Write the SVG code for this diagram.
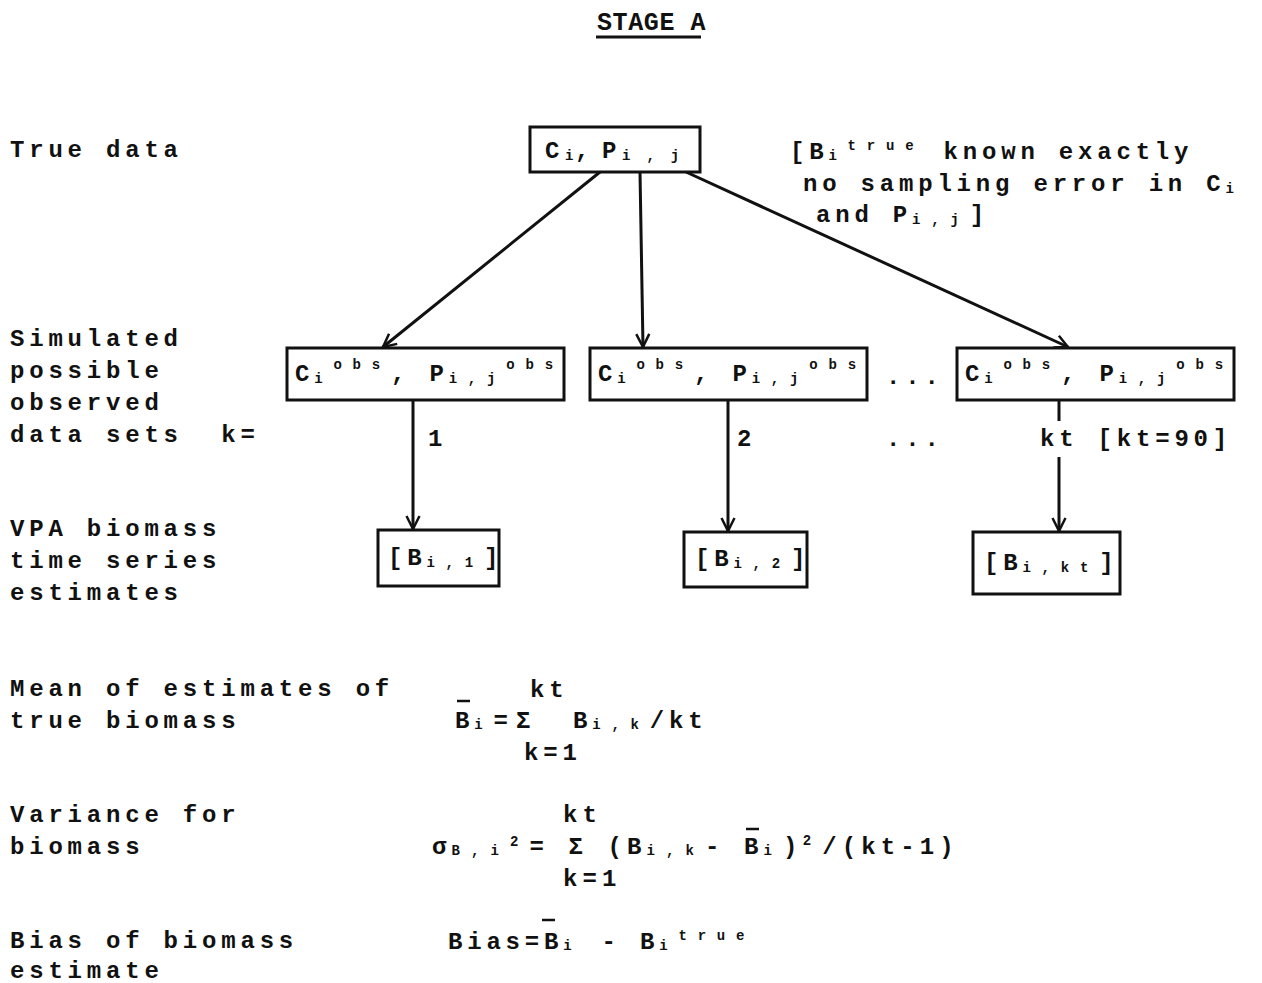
<svg xmlns="http://www.w3.org/2000/svg" width="1262" height="983" viewBox="0 0 1262 983">
<style>
text{font-family:"Liberation Mono","DejaVu Sans Mono",monospace;font-weight:bold;fill:#111;font-size:24px;letter-spacing:4.8px}
.s{font-size:14px;letter-spacing:10.8px}
.t .s{letter-spacing:16px}
.t .s0{letter-spacing:0}
.f{letter-spacing:5.1px}
.f .s{letter-spacing:11.1px}
.box{fill:none;stroke:#111;stroke-width:3}
.c{stroke:#111;stroke-width:3;fill:none}
.bar{stroke:#111;stroke-width:2.5}
</style>
<defs>
<marker id="ah" markerWidth="16" markerHeight="16" refX="14" refY="8" orient="auto" markerUnits="userSpaceOnUse" viewBox="0 0 16 16">
<path d="M1,1.5 L14,8 L1,14.5" fill="none" stroke="#111" stroke-width="2.5"/>
</marker>
</defs>
<rect width="1262" height="983" fill="#fff"/>
<text x="597" y="30" style="letter-spacing:0.6px;font-size:25px">STAGE A</text>
<line x1="596" y1="37" x2="701" y2="37" stroke="#111" stroke-width="3"/>

<g id="labels">
<text x="10" y="157">True data</text>
<text x="10" y="346">Simulated</text>
<text x="10" y="378">possible</text>
<text x="10" y="410">observed</text>
<text x="10" y="442" xml:space="preserve">data sets  k=</text>
<text x="10" y="536">VPA biomass</text>
<text x="10" y="568">time series</text>
<text x="10" y="600">estimates</text>
<text x="10" y="696">Mean of estimates of</text>
<text x="10" y="728">true biomass</text>
<text x="10" y="822">Variance for</text>
<text x="10" y="854">biomass</text>
<text x="10" y="948">Bias of biomass</text>
<text x="10" y="978">estimate</text>
</g>

<g id="true-data">
<rect class="box" x="530" y="127" width="170" height="45"/>
<text class="t" x="545" y="158">C<tspan class="s s0" dy="2" x="565">i</tspan><tspan dy="-2" x="575">,</tspan><tspan x="602">P</tspan><tspan class="s" dy="2" x="622">i,j</tspan></text>
</g>
<g id="note">
<text x="790" y="159">[B<tspan class="s" dy="1">i</tspan><tspan class="s" dy="-10">true</tspan><tspan dy="9"> known exactly</tspan></text>
<text x="803" y="191">no sampling error in C<tspan class="s" dy="2">i</tspan></text>
<text x="816" y="222">and P<tspan class="s" dy="2">i,j</tspan><tspan dy="-2">]</tspan></text>
</g>

<g id="obs1">
<rect class="box" x="287" y="348" width="277" height="52"/>
<text x="295" y="381">C<tspan class="s" dy="2">i</tspan><tspan class="s" dy="-14">obs</tspan><tspan dy="12">, P</tspan><tspan class="s" dy="2">i,j</tspan><tspan class="s" dy="-14">obs</tspan></text>
</g>
<g id="obs2">
<rect class="box" x="590" y="348" width="277" height="52"/>
<text x="598" y="381">C<tspan class="s" dy="2">i</tspan><tspan class="s" dy="-14">obs</tspan><tspan dy="12">, P</tspan><tspan class="s" dy="2">i,j</tspan><tspan class="s" dy="-14">obs</tspan></text>
</g>
<g id="obs3">
<rect class="box" x="957" y="348" width="277" height="52"/>
<text x="965" y="381">C<tspan class="s" dy="2">i</tspan><tspan class="s" dy="-14">obs</tspan><tspan dy="12">, P</tspan><tspan class="s" dy="2">i,j</tspan><tspan class="s" dy="-14">obs</tspan></text>
</g>
<text x="886" y="384">...</text>
<text x="886" y="446">...</text>

<g id="est1">
<rect class="box" x="378" y="530" width="121" height="56"/>
<text x="388" y="565">[B<tspan class="s" dy="2">i,1</tspan><tspan dy="-2">]</tspan></text>
</g>
<g id="est2">
<rect class="box" x="684" y="532" width="123" height="55"/>
<text x="695" y="566">[B<tspan class="s" dy="2">i,2</tspan><tspan dy="-2">]</tspan></text>
</g>
<g id="est3">
<rect class="box" x="973" y="532" width="147" height="62"/>
<text x="984" y="570">[B<tspan class="s" dy="2">i,kt</tspan><tspan dy="-2">]</tspan></text>
</g>

<g id="connectors">
<line class="c" x1="600" y1="172" x2="383" y2="347" marker-end="url(#ah)"/>
<line class="c" x1="640" y1="172" x2="643" y2="347" marker-end="url(#ah)"/>
<line class="c" x1="686" y1="172" x2="1068" y2="347" marker-end="url(#ah)"/>
<line class="c" x1="413" y1="400" x2="413" y2="529" marker-end="url(#ah)"/>
<line class="c" x1="728" y1="400" x2="728" y2="531" marker-end="url(#ah)"/>
<line class="c" x1="1059" y1="400" x2="1059" y2="421"/>
<line class="c" x1="1059" y1="457" x2="1059" y2="531" marker-end="url(#ah)"/>
</g>
<text x="428" y="446">1</text>
<text x="737" y="446">2</text>
<text x="1040" y="446">kt [kt=90]</text>

<g id="formulas">
<line class="bar" x1="457" y1="701" x2="470" y2="701"/>
<text x="530" y="697">kt</text>
<text x="455" y="728">B<tspan class="s" dy="1">i</tspan><tspan dy="-1">=</tspan><tspan x="516">Σ</tspan><tspan x="573">B</tspan><tspan class="s" dy="1">i,k</tspan><tspan dy="-1">/kt</tspan></text>
<text x="524" y="760">k=1</text>

<text class="f" x="563" y="822">kt</text>
<line class="bar" x1="746" y1="829" x2="759" y2="829"/>
<text class="f" x="432" y="854">σ<tspan class="s" dy="1">B,i</tspan><tspan class="s" dy="-9">2</tspan><tspan dy="8">= Σ (B</tspan><tspan class="s" dy="1">i,k</tspan><tspan dy="-1">- B</tspan><tspan class="s" dy="1">i</tspan><tspan dy="-1">)</tspan><tspan class="s" dy="-9">2</tspan><tspan dy="9">/(kt-1)</tspan></text>
<text class="f" x="563" y="886">k=1</text>

<line class="bar" x1="542" y1="920" x2="555" y2="920"/>
<text x="448" y="949">Bias=B<tspan class="s" dy="1">i</tspan><tspan dy="-1"> - B</tspan><tspan class="s" dy="1">i</tspan><tspan class="s" dy="-10">true</tspan></text>
</g>
</svg>
